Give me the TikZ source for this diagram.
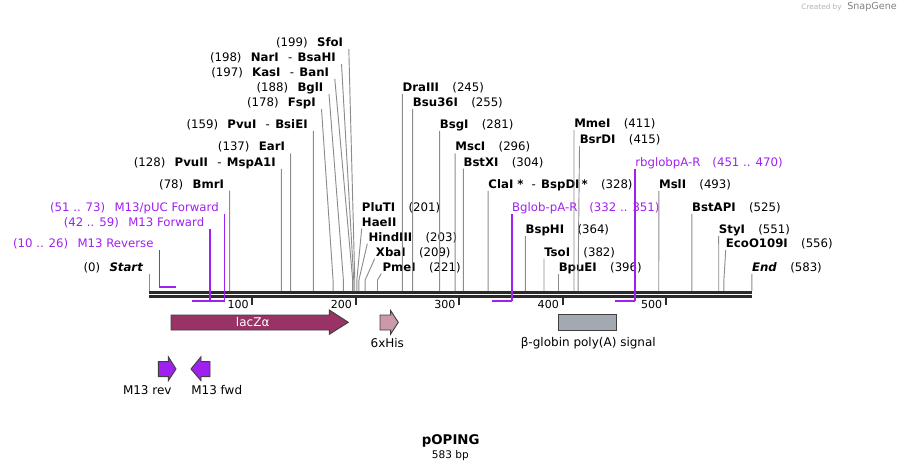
\documentclass[tikz,border=0pt]{standalone}
\usepackage{fontspec}
\setmainfont{DejaVu Sans}
\usetikzlibrary{calc}

\definecolor{barcol}{HTML}{2B2B2B}
\definecolor{sitecol}{HTML}{8C8C8C}
\definecolor{primercol}{HTML}{A020F0}
\definecolor{laczcol}{HTML}{993366}
\definecolor{hiscol}{HTML}{CC99AA}
\definecolor{polyacol}{HTML}{A3A9B0}

\begin{document}
\begin{tikzpicture}[
  x=0.75pt, y=-0.75pt,
  lbl/.style={
    inner sep=0pt,
    font=\fontsize{8.8}{10}\selectfont,
    text height=7.5pt,
    text depth=1pt
  },
  leftlbl/.style={lbl, anchor=east},
  rightlbl/.style={lbl, anchor=west},
  primerlbl/.style={text=primercol},
  site/.style={draw=sitecol, line width=0.7pt},
  primer/.style={draw=primercol, line width=1.3pt},
  primerline/.style={draw=primercol, line width=0.9pt},
  feature/.style={draw=black!75, line width=0.7pt},
  featlbl/.style={
    inner sep=0pt,
    font=\fontsize{9}{10}\selectfont
  }
]
\useasboundingbox (0,0) rectangle (902,472);

\node[inner sep=0pt, anchor=east, text=black!30, font=\fontsize{5.5}{6}\selectfont] (credit) at (842,7) {Created by};
\node[inner sep=0pt, anchor=east, text=black!50, font=\fontsize{7.2}{8}\selectfont] (snapgene) at (897,7) {SnapGene};

% backbone
\coordinate (barL) at (149,292.3);
\coordinate (barR) at (752,292.3);
\draw[barcol, line width=2.4pt] (barL) -- (barR);
\draw[barcol, line width=2pt] ($(barL)+(0,4.2)$) -- ($(barR)+(0,4.2)$);

\foreach \t in {100,200,300,400,500} {
  \coordinate (t\t) at ({149+1.034*\t},297.5);
  \draw[barcol, line width=1.4pt] (t\t) -- ++(0,7);
  \node[lbl, anchor=east, font=\fontsize{8.3}{10}\selectfont] (tl\t) at ($(t\t)+(-3.5,6.5)$) {\t};
}

\foreach \p in {0,78,128,137,159,178,188,197,198,199,201,203,209,221,245,255,281,296,304,328,364,382,396,411,415,493,525,551,556,583}
  \coordinate (s\p) at ({149+1.034*\p},291);

% sites left of their lines
\node[leftlbl] (sfoi) at (343.3,42.3) {(199)\hspace{7pt}\textbf{SfoI}};
\node[leftlbl] (nari) at (336,57) {(198)\hspace{7pt}\textbf{NarI}\hspace{7pt}-\hspace{4pt}\textbf{BsaHI}};
\node[leftlbl] (kasi) at (329.3,72) {(197)\hspace{7pt}\textbf{KasI}\hspace{7pt}-\hspace{4pt}\textbf{BanI}};
\node[leftlbl] (bgli) at (323.5,87) {(188)\hspace{7pt}\textbf{BglI}};
\node[leftlbl] (fspi) at (316,102) {(178)\hspace{7pt}\textbf{FspI}};
\node[leftlbl] (pvui) at (307.9,124) {(159)\hspace{7pt}\textbf{PvuI}\hspace{7pt}-\hspace{4pt}\textbf{BsiEI}};
\node[leftlbl] (eari) at (285.2,146.5) {(137)\hspace{7pt}\textbf{EarI}};
\node[leftlbl] (pvuii) at (275.9,162) {(128)\hspace{7pt}\textbf{PvuII}\hspace{7pt}-\hspace{4pt}\textbf{MspA1I}};
\node[leftlbl] (bmri) at (224.2,183.7) {(78)\hspace{7pt}\textbf{BmrI}};
\node[leftlbl] (start) at (143.5,267) {(0)\hspace{7pt}\textbf{\itshape Start}};

\draw[site] ($(sfoi.south east)+(5.5,1)$) -- ($(s199)+(0,-11)$) -- (s199);
\draw[site] ($(nari.south east)+(5.5,1)$) -- ($(s198)+(0,-11)$) -- (s198);
\draw[site] ($(kasi.south east)+(5.5,1)$) -- ($(s197)+(0,-11)$) -- (s197);
\draw[site] ($(bgli.south east)+(5.5,1)$) -- ($(s188)+(0,-11)$) -- (s188);
\draw[site] ($(fspi.south east)+(5.5,1)$) -- ($(s178)+(0,-11)$) -- (s178);
\draw[site] ($(pvui.south east)+(5.5,1)$) -- (s159);
\draw[site] ($(eari.south east)+(5.5,1)$) -- (s137);
\draw[site] ($(pvuii.south east)+(5.5,1)$) -- (s128);
\draw[site] ($(bmri.south east)+(5.5,1)$) -- (s78);
\draw[site] ($(start.south east)+(5.5,1)$) -- (s0);

% sites right of their lines
\node[rightlbl] (draiii) at (402.3,87) {\textbf{DraIII}\hspace{10pt}(245)};
\node[rightlbl] (bsu36i) at (412.7,102) {\textbf{Bsu36I}\hspace{10pt}(255)};
\node[rightlbl] (bsgi) at (439.6,124) {\textbf{BsgI}\hspace{10pt}(281)};
\node[rightlbl] (msci) at (455.1,146.5) {\textbf{MscI}\hspace{10pt}(296)};
\node[rightlbl] (bstxi) at (463.3,161.7) {\textbf{BstXI}\hspace{10pt}(304)};
\node[rightlbl] (clai) at (488.2,184) {\textbf{ClaI *}\hspace{6pt}-\hspace{4pt}\textbf{BspDI\,*}\hspace{10pt}(328)};
\node[rightlbl] (pluti) at (361.7,206.7) {\textbf{PluTI}\hspace{10pt}(201)};
\node[rightlbl] (haeii) at (361.7,221.7) {\textbf{HaeII}};
\node[rightlbl] (hindiii) at (368.3,236.7) {\textbf{HindIII}\hspace{10pt}(203)};
\node[rightlbl] (xbai) at (375.7,251.7) {\textbf{XbaI}\hspace{10pt}(209)};
\node[rightlbl] (pmei) at (382.3,266.7) {\textbf{PmeI}\hspace{10pt}(221)};
\node[rightlbl] (bsphi) at (525.4,229.3) {\textbf{BspHI}\hspace{10pt}(364)};
\node[rightlbl] (tsoi) at (544,251.7) {\textbf{TsoI}\hspace{10pt}(382)};
\node[rightlbl] (bpuei) at (558.5,267.3) {\textbf{BpuEI}\hspace{10pt}(396)};
\node[rightlbl] (mmei) at (574,123.3) {\textbf{MmeI}\hspace{10pt}(411)};
\node[rightlbl] (bsrdi) at (579.5,139.3) {\textbf{BsrDI}\hspace{10pt}(415)};
\node[rightlbl] (msli) at (658.8,184.3) {\textbf{MslI}\hspace{10pt}(493)};
\node[rightlbl] (bstapi) at (691.9,207) {\textbf{BstAPI}\hspace{10pt}(525)};
\node[rightlbl] (styi) at (718.7,229.3) {\textbf{StyI}\hspace{10pt}(551)};
\node[rightlbl] (ecoo) at (725.7,243.3) {\textbf{EcoO109I}\hspace{10pt}(556)};
\node[rightlbl] (end) at (751.8,267.3) {\textbf{\itshape End}\hspace{10pt}(583)};

\draw[site] ($(draiii.south west)+(0,1)$) -- (s245);
\draw[site] ($(bsu36i.south west)+(0,1)$) -- (s255);
\draw[site] ($(bsgi.south west)+(0,1)$) -- (s281);
\draw[site] ($(msci.south west)+(0,1)$) -- (s296);
\draw[site] ($(bstxi.south west)+(0,1)$) -- (s304);
\draw[site] ($(clai.south west)+(0,1)$) -- (s328);
\draw[site] ($(haeii.south west)+(0,1)$) -- ($(s201)+(0,-11)$) -- (s201);
\draw[site] ($(hindiii.south west)+(-1,1)$) -- ($(s203)+(0,-11)$) -- (s203);
\draw[site] ($(xbai.south west)+(-1,1)$) -- ($(s209)+(0,-11)$) -- (s209);
\draw[site] ($(pmei.south west)+(-1,1)$) -- ($(s221)+(0,-11)$) -- (s221);
\draw[site] ($(bsphi.south west)+(0,1)$) -- (s364);
\draw[site] ($(tsoi.south west)+(0,1)$) -- (s382);
\draw[site] ($(bpuei.south west)+(0,1)$) -- (s396);
\draw[site] ($(mmei.south west)+(0,1)$) -- (s411);
\draw[site] ($(bsrdi.south west)+(0,1)$) -- ($(s415)+(0,-11)$) -- (s415);
\draw[site] ($(msli.south west)+(0,1)$) -- (s493);
\draw[site] ($(bstapi.south west)+(0,1)$) -- (s525);
\draw[site] ($(styi.south west)+(0,1)$) -- (s551);
\draw[site] ($(ecoo.south west)+(0,1)$) -- ($(s556)+(0,-11)$) -- (s556);
\draw[site] ($(end.south west)+(0,1)$) -- (s583);

% primers
\node[leftlbl, primerlbl] (m13puc) at (219,206.7) {(51 .. 73)\hspace{7pt}M13/pUC Forward};
\node[leftlbl, primerlbl] (m13fwd) at (204.5,221.7) {(42 .. 59)\hspace{7pt}M13 Forward};
\node[leftlbl, primerlbl] (m13rev) at (153.8,243.3) {(10 .. 26)\hspace{7pt}M13 Reverse};
\node[rightlbl, primerlbl] (bglob) at (511.9,206.7) {Bglob-pA-R\hspace{9pt}(332 .. 351)};
\node[rightlbl, primerlbl] (rbglob) at (635,161.7) {rbglobpA-R\hspace{9pt}(451 .. 470)};

\coordinate (m13puc3) at (201.7,300.7);
\coordinate (m13puc5) at (224.5,300.7);
\coordinate (m13fwd3) at (192.4,300.7);
\coordinate (m13fwd5) at (210,300.7);
\coordinate (m13rev5) at (159.3,287.3);
\coordinate (m13rev3) at (175.9,287.3);
\coordinate (bglob3) at (492.3,300.7);
\coordinate (bglob5) at (511.9,300.7);
\coordinate (rbglob3) at (615.3,300.7);
\coordinate (rbglob5) at (635,300.7);

\draw[primerline] ($(m13puc.south east)+(5.5,1)$) -- (m13puc5);
\draw[primerline] ($(m13fwd.south east)+(5.5,1)$) -- (m13fwd5);
\draw[primerline] ($(m13rev.south east)+(5.5,1)$) -- (m13rev5);
\draw[primerline] ($(bglob.south west)+(0,1)$) -- (bglob5);
\draw[primerline] ($(rbglob.south west)+(0,1)$) -- (rbglob5);
\draw[primer] (m13puc3) -- (m13puc5);
\draw[primer] (m13fwd3) -- (m13fwd5);
\draw[primer] (m13rev5) -- (m13rev3);
\draw[primer] (bglob3) -- (bglob5);
\draw[primer] (rbglob3) -- (rbglob5);

% features
\draw[feature, fill=laczcol] (171,315) -- (329.3,315) -- (329.3,310) -- (348.3,322.3)
  -- (329.3,334.3) -- (329.3,330) -- (171,330) -- cycle;
\node[featlbl, text=white] (lacz) at (252.7,322.3) {lacZα};

\draw[feature, fill=hiscol] (380,315) -- (390.7,315) -- (390.7,310.7) -- (398.3,322.3)
  -- (390.7,334) -- (390.7,330) -- (380,330) -- cycle;
\node[featlbl] (his) at (387.3,343.3) {6xHis};

\draw[feature, fill=polyacol] (558.3,314.3) rectangle (616.7,330.7);
\node[featlbl] (polya) at (588.3,343.3) {β-globin poly(A) signal};

\draw[feature, fill=primercol] (158.3,361.7) -- (168.3,361.7) -- (168.3,356.7) -- (176,369)
  -- (168.3,380.7) -- (168.3,376.7) -- (158.3,376.7) -- cycle;
\node[featlbl] (m13revf) at (147.3,390) {M13 rev};

\draw[feature, fill=primercol] (210,361.7) -- (201,361.7) -- (201,356.7) -- (191,369)
  -- (201,380.7) -- (201,376.7) -- (210,376.7) -- cycle;
\node[featlbl] (m13fwdf) at (216.7,390) {M13 fwd};

\node[inner sep=0pt, font=\bfseries\fontsize{10}{12}\selectfont] (title) at (450.7,441) {pOPING};
\node[inner sep=0pt, font=\fontsize{7.9}{9}\selectfont] (size) at (450.3,455.5) {583 bp};
\end{tikzpicture}
\end{document}
